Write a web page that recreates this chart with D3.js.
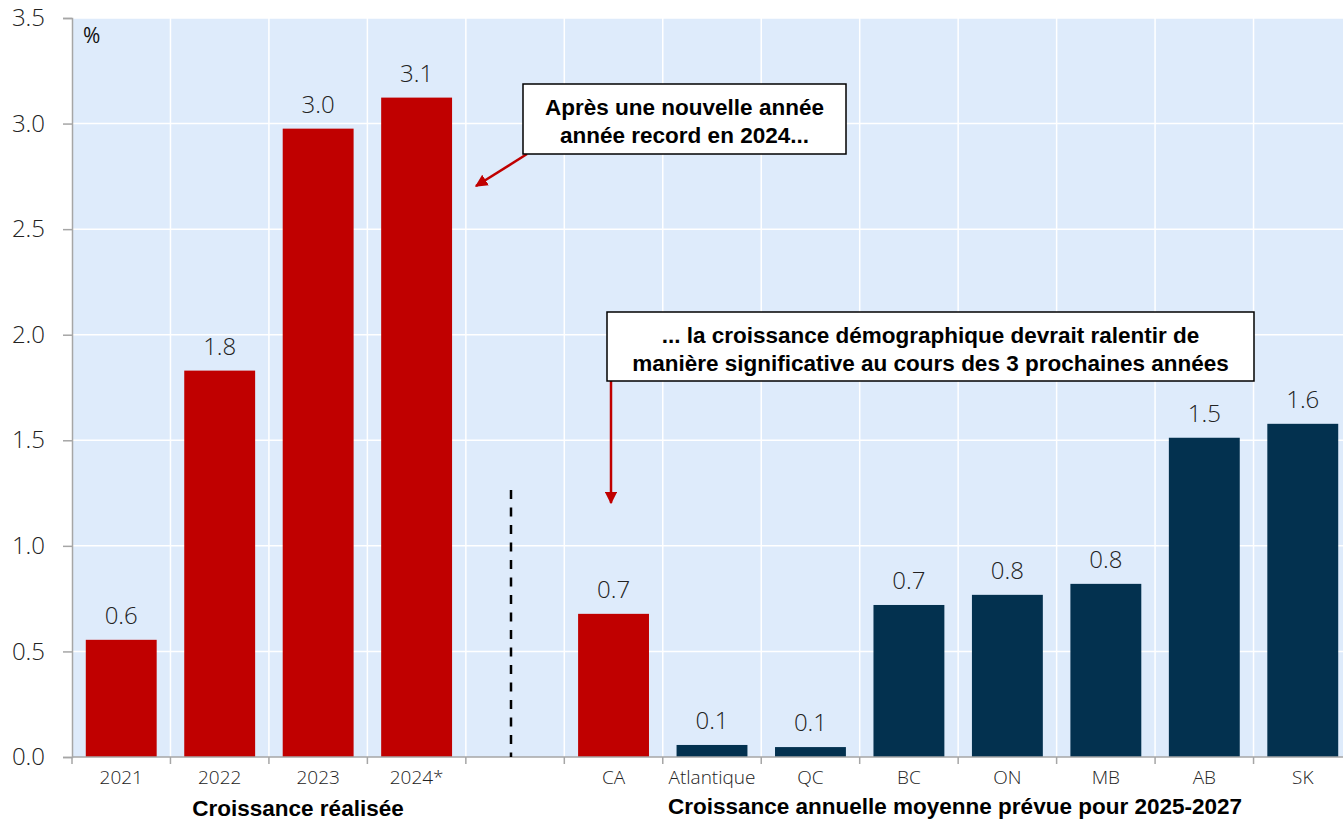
<!DOCTYPE html>
<html>
<head>
<meta charset="utf-8">
<script src="https://cdn.jsdelivr.net/npm/d3@7"></script>
<style>
  body { margin: 0; background: #fff; }
  svg { display: block; }
</style>
</head>
<body>
<svg id="chart"></svg>
<script>
// categories (empty slot separates realised and forecast)
let categories = ["2021", "2022", "2023", "2024*", "", "CA", "Atlantique", "QC", "BC", "ON", "MB", "AB", "SK"];
let values = [0.555, 1.83, 2.976, 3.123, null, 0.678, 0.057, 0.047, 0.72, 0.768, 0.82, 1.512, 1.578];
let valueLabels = ["0.6", "1.8", "3.0", "3.1", "", "0.7", "0.1", "0.1", "0.7", "0.8", "0.8", "1.5", "1.6"];
let barGroup = ["red", "red", "red", "red", "", "red", "navy", "navy", "navy", "navy", "navy", "navy", "navy"];
let yTicks = [0, 0.5, 1, 1.5, 2, 2.5, 3, 3.5];

let width = 1343;
let height = 821;
let margin = {top: 18, right: -9, bottom: 64, left: 72};

let svg = d3.select("#chart").attr("width", width).attr("height", height);

let x = d3.scaleBand()
  .domain(categories.map((c, i) => i))
  .range([margin.left, width - margin.right])
  .paddingInner(0.28)
  .paddingOuter(0.14);

let y = d3.scaleLinear().domain([0, 3.5]).range([height - margin.bottom, margin.top]);

let colors = {red: "#c00000", navy: "#03314f"};
let numFont = "'Open Sans', sans-serif";
let boldFont = "'Liberation Sans', Arial, sans-serif";

// plot background
svg.append("rect")
  .attr("x", margin.left).attr("y", margin.top)
  .attr("width", width - margin.right - margin.left)
  .attr("height", y(0) - margin.top)
  .attr("fill", "#deebfb");

// gridlines
let step = x.step();
svg.append("g").selectAll("line.h")
  .data(yTicks.slice(1))
  .enter().append("line")
  .attr("x1", margin.left).attr("x2", width - margin.right)
  .attr("y1", d => y(d)).attr("y2", d => y(d))
  .attr("stroke", "#fff").attr("stroke-width", 1.5);

svg.append("g").selectAll("line.v")
  .data(d3.range(1, categories.length + 1))
  .enter().append("line")
  .attr("x1", d => margin.left + d * step).attr("x2", d => margin.left + d * step)
  .attr("y1", margin.top).attr("y2", y(0))
  .attr("stroke", "#fff").attr("stroke-width", 1.5);

// bars
let data = categories.map((c, i) => ({i: i, cat: c, v: values[i], label: valueLabels[i], g: barGroup[i]}))
  .filter(d => d.v !== null);

svg.append("g").selectAll("rect")
  .data(data)
  .enter().append("rect")
  .attr("x", d => x(d.i))
  .attr("y", d => y(d.v))
  .attr("width", x.bandwidth())
  .attr("height", d => y(0) - y(d.v))
  .attr("fill", d => colors[d.g]);

svg.append("g").selectAll("text")
  .data(data)
  .enter().append("text")
  .attr("x", d => x(d.i) + x.bandwidth() / 2)
  .attr("y", d => y(d.v) - 16)
  .attr("text-anchor", "middle")
  .style("font-family", numFont)
  .style("font-size", "24px")
  .style("font-weight", 300)
  .attr("fill", "#222")
  .text(d => d.label);

// y axis
let yAxis = d3.axisLeft(y).tickValues(yTicks).tickFormat(d3.format(".1f")).tickSize(9).tickPadding(18);
let gy = svg.append("g").attr("transform", "translate(" + margin.left + ",0)").call(yAxis);
gy.select(".domain").attr("stroke", "#a6a6a6").attr("stroke-width", 1.5);
gy.selectAll(".tick line").attr("stroke", "#a6a6a6").attr("stroke-width", 1.5);
gy.selectAll(".tick text")
  .style("font-family", numFont)
  .style("font-size", "24px")
  .style("font-weight", 300)
  .attr("fill", "#222");

// x axis
let xAxis = d3.axisBottom(x).tickFormat(i => categories[i]).tickSize(0).tickPadding(14);
let gx = svg.append("g").attr("transform", "translate(0," + y(0) + ")").call(xAxis);
gx.select(".domain").remove();
gx.selectAll(".tick text")
  .style("font-family", numFont)
  .style("font-size", "19px")
  .style("font-weight", 300)
  .attr("fill", "#222");
svg.append("line")
  .attr("x1", margin.left).attr("x2", width)
  .attr("y1", y(0)).attr("y2", y(0))
  .attr("stroke", "#a6a6a6").attr("stroke-width", 1.5);
svg.append("g").selectAll("line")
  .data(d3.range(0, categories.length + 1))
  .enter().append("line")
  .attr("x1", d => margin.left + d * step).attr("x2", d => margin.left + d * step)
  .attr("y1", y(0)).attr("y2", y(0) + 7)
  .attr("stroke", "#a6a6a6").attr("stroke-width", 1.5);

// "%" label
svg.append("text")
  .attr("x", 83).attr("y", 43)
  .style("font-family", numFont)
  .style("font-size", "21px")
  .attr("fill", "#111")
  .text("%");

// separator
svg.append("line")
  .attr("x1", 511).attr("x2", 511)
  .attr("y1", y(1.265)).attr("y2", y(0))
  .attr("stroke", "#000").attr("stroke-width", 2.5)
  .attr("stroke-dasharray", "9,8.5");

// group titles
let titleStyle = sel => sel
  .attr("text-anchor", "middle")
  .style("font-family", boldFont)
  .style("font-weight", "bold")
  .style("font-size", "22.5px")
  .attr("fill", "#000");
svg.append("text").attr("x", 298).attr("y", 816).call(titleStyle).text("Croissance réalisée");
svg.append("text").attr("x", 955).attr("y", 814).call(titleStyle).text("Croissance annuelle moyenne prévue pour 2025-2027");

// annotations
let defs = svg.append("defs");
defs.append("marker")
  .attr("id", "arrow").attr("viewBox", "0 0 10 10")
  .attr("refX", 9).attr("refY", 5)
  .attr("markerWidth", 5).attr("markerHeight", 5)
  .attr("orient", "auto")
  .append("path").attr("d", "M0,0 L10,5 L0,10 z").attr("fill", "#c00000");

function callout(bx, by, bw, bh, lines, ax1, ay1, ax2, ay2) {
  svg.append("line")
    .attr("x1", ax1).attr("y1", ay1).attr("x2", ax2).attr("y2", ay2)
    .attr("stroke", "#c00000").attr("stroke-width", 2.5)
    .attr("marker-end", "url(#arrow)");
  svg.append("rect")
    .attr("x", bx).attr("y", by).attr("width", bw).attr("height", bh)
    .attr("fill", "#fff").attr("stroke", "#000").attr("stroke-width", 1.5);
  lines.forEach((t, k) => {
    svg.append("text")
      .attr("x", bx + bw / 2).attr("y", by + 31 + k * 28)
      .attr("text-anchor", "middle")
      .style("font-family", boldFont)
      .style("font-weight", "bold")
      .style("font-size", "22.5px")
      .attr("fill", "#000")
      .text(t);
  });
}

callout(523, 84, 323, 70, ["Après une nouvelle année", "année record en 2024..."], 527, 154, 476, 186);
callout(607, 312, 647, 69, ["... la croissance démographique devrait ralentir de", "manière significative au cours des 3 prochaines années"], 611, 381, 611, 503);
</script>
</body>
</html>
